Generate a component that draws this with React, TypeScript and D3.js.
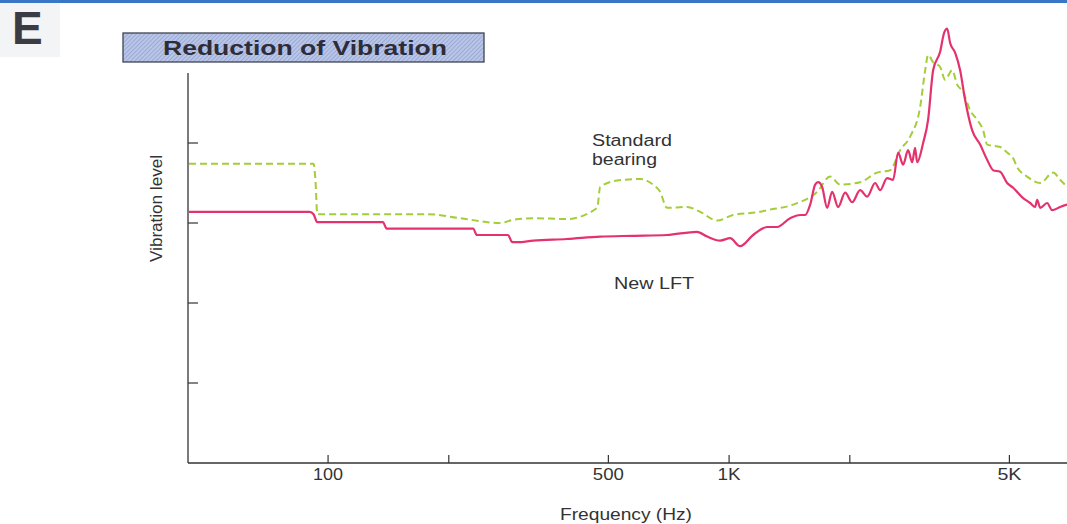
import React from "react";
import * as d3 from "d3";

// ---- data (frequency in Hz, vibration level in arbitrary units) ----
const newLftFreq = [45, 90, 92, 94, 137, 140, 230, 235, 281, 288, 296, 325, 394, 477, 576, 700, 832, 882, 950, 1006, 1065, 1148, 1244, 1317, 1420, 1504, 1548, 1593, 1639, 1667, 1706, 1756, 1807, 1870, 1947, 2027, 2122, 2209, 2313, 2381, 2477, 2565, 2639, 2716, 2795, 2861, 2909, 2944, 3047, 3135, 3227, 3359, 3438, 3497, 3558, 3661, 3768, 3877, 4036, 4227, 4400, 4555, 4741, 4935, 5109, 5411, 5633, 5797, 5864, 5966, 6209, 6390, 6691, 6965];
const newLftLevel = [3.14, 3.14, 3.11, 3.01, 3.01, 2.93, 2.93, 2.85, 2.85, 2.76, 2.76, 2.78, 2.8, 2.83, 2.84, 2.85, 2.89, 2.83, 2.78, 2.81, 2.71, 2.85, 2.95, 2.95, 3.06, 3.1, 3.1, 3.23, 3.48, 3.51, 3.45, 3.19, 3.39, 3.2, 3.38, 3.26, 3.41, 3.33, 3.5, 3.41, 3.56, 3.54, 3.88, 3.73, 3.91, 3.76, 3.94, 3.76, 4.0, 4.29, 4.91, 5.14, 5.38, 5.43, 5.25, 5.13, 4.91, 4.54, 4.16, 3.98, 3.79, 3.66, 3.64, 3.5, 3.44, 3.31, 3.25, 3.2, 3.29, 3.19, 3.25, 3.16, 3.2, 3.23];

const standardFreq = [45, 92, 93, 94, 177, 213, 269, 289, 325, 394, 469, 477, 526, 600, 646, 673, 700, 786, 847, 933, 1023, 1195, 1244, 1445, 1658, 1787, 1892, 2122, 2340, 2521, 2670, 2828, 2995, 3083, 3135, 3227, 3359, 3457, 3599, 3704, 3833, 3990, 4153, 4300, 4400, 4741, 4935, 5109, 5227, 5537, 5966, 6427, 6691, 6965];
const standardLevel = [3.74, 3.74, 3.54, 3.11, 3.11, 3.06, 3.0, 3.04, 3.06, 3.05, 3.19, 3.45, 3.53, 3.55, 3.48, 3.39, 3.19, 3.2, 3.14, 3.03, 3.1, 3.14, 3.16, 3.23, 3.39, 3.58, 3.48, 3.51, 3.63, 3.66, 3.91, 4.08, 4.45, 4.91, 5.1, 5.01, 4.95, 4.79, 4.91, 4.73, 4.64, 4.41, 4.29, 4.16, 3.98, 3.95, 3.88, 3.81, 3.7, 3.58, 3.5, 3.63, 3.54, 3.45];

const freqTicks = [100, 200, 500, 1000, 2000, 5000];
const freqTickLabels = ["100", "", "500", "1K", "", "5K"];
const freqLabelWidths = [30, 0, 31, 23, 0, 24];
const levelTicks = [1, 2, 3, 4];

const FONT = "'Liberation Sans', Arial, Helvetica, sans-serif";

export default function App() {
  const W = 1067;
  const H = 524;
  const x = d3.scaleLog().domain([45, 7000]).range([189, 1068]);
  const y = d3.scaleLinear().domain([0, 4.875]).range([463, 73]);
  const axisX = 188;
  const axisY = y(0);

  const line = d3
    .line<[number, number]>()
    .x((d) => x(d[0]))
    .y((d) => y(d[1]))
    .curve(d3.curveMonotoneX);

  const pinkPath = line(newLftFreq.map((f, i) => [f, newLftLevel[i]] as [number, number])) || "";
  const greenPath = line(standardFreq.map((f, i) => [f, standardLevel[i]] as [number, number])) || "";

  return (
    <svg
      width={W}
      height={H}
      style={{ position: "absolute", left: 0, top: 0, display: "block", background: "#ffffff" }}
      fontFamily={FONT}
    >
      <defs>
        <pattern id="hatch" width="3" height="3" patternUnits="userSpaceOnUse" patternTransform="rotate(45)">
          <rect width="3" height="3" fill="#b9c6e8" />
          <line x1="0" y1="0" x2="0" y2="3" stroke="#8797c9" strokeWidth="1.2" />
        </pattern>
      </defs>
      <rect x={0} y={0} width={W} height={H} fill="#ffffff" />
      {/* top blue rule */}
      <rect x={0} y={0} width={W} height={3} fill="#3a76c6" />
      {/* panel letter */}
      <rect x={0} y={3} width={60} height={54} fill="#f3f4f6" />
      <text x={12} y={44} fontSize={46} fontWeight="bold" fill="#3b3b46">E</text>

      {/* title box */}
      <rect x={123} y={33} width={361} height={29} fill="url(#hatch)" stroke="#3f4352" strokeWidth={1.3} />
      <text
        x={163}
        y={55}
        fontSize={20}
        fontWeight="bold"
        fill="#2d2d3a"
        textLength={284}
        lengthAdjust="spacingAndGlyphs"
      >
        Reduction of Vibration
      </text>

      {/* axes */}
      <line x1={axisX} y1={73} x2={axisX} y2={axisY} stroke="#333" strokeWidth={1.3} />
      <line x1={axisX} y1={axisY} x2={W} y2={axisY} stroke="#333" strokeWidth={1.3} />
      {levelTicks.map((t) => (
        <line key={"yt" + t} x1={axisX} y1={y(t)} x2={axisX + 10} y2={y(t)} stroke="#333" strokeWidth={1.2} />
      ))}
      {freqTicks.map((t, i) => (
        <g key={"xt" + t}>
          <line x1={x(t)} y1={axisY} x2={x(t)} y2={axisY - 8} stroke="#333" strokeWidth={1.2} />
          {freqTickLabels[i] && (
            <text
              x={x(t) - freqLabelWidths[i] / 2}
              y={480}
              fontSize={16}
              fill="#333"
              textLength={freqLabelWidths[i]}
              lengthAdjust="spacingAndGlyphs"
            >
              {freqTickLabels[i]}
            </text>
          )}
        </g>
      ))}
      <text x={560} y={520} fontSize={16} fill="#333" textLength={132} lengthAdjust="spacingAndGlyphs">
        Frequency (Hz)
      </text>
      <text
        transform="translate(162,262) rotate(-90)"
        x={0}
        y={0}
        fontSize={16}
        fill="#333"
        textLength={107}
        lengthAdjust="spacingAndGlyphs"
      >
        Vibration level
      </text>

      {/* series */}
      <path d={greenPath} fill="none" stroke="#a4cd3a" strokeWidth={2} strokeDasharray="7,4" strokeLinejoin="round" />
      <path d={pinkPath} fill="none" stroke="#e4336c" strokeWidth={2.2} strokeLinejoin="round" />

      {/* annotations */}
      <text x={592} y={146} fontSize={16} fill="#333" textLength={80} lengthAdjust="spacingAndGlyphs">Standard</text>
      <text x={592} y={165} fontSize={16} fill="#333" textLength={65} lengthAdjust="spacingAndGlyphs">bearing</text>
      <text x={614} y={289} fontSize={16} fill="#333" textLength={80} lengthAdjust="spacingAndGlyphs">New LFT</text>
    </svg>
  );
}
